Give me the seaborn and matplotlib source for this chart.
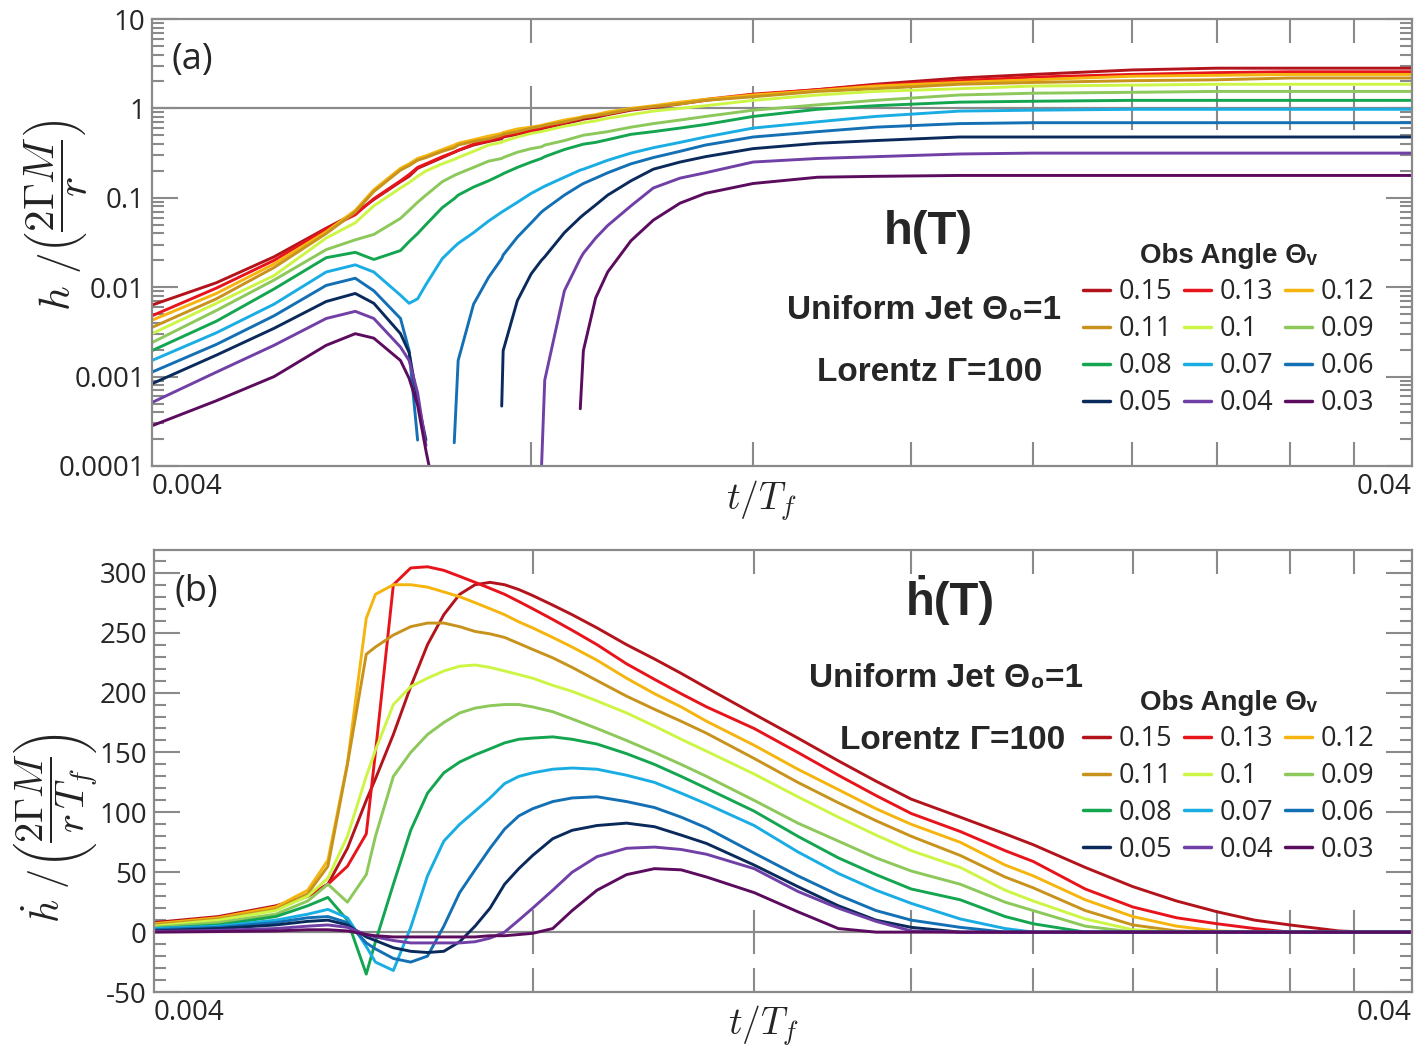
import numpy as np
import pandas as pd
import matplotlib
matplotlib.use("Agg")
import matplotlib.pyplot as plt
import seaborn as sns
from matplotlib import ticker
from matplotlib.lines import Line2D

nan = np.nan

# observer angles, in drawing order, and their colours
angles = ["0.15", "0.13", "0.12", "0.11", "0.1", "0.09",
          "0.08", "0.07", "0.06", "0.05", "0.04", "0.03"]
colors = ["#b3141c", "#e8141c", "#f6b50e", "#c8931c", "#cdf545", "#8dc85a",
          "#14a550", "#1aade4", "#1470b4", "#0b2a5c", "#7040a6", "#5c0c5e"]

x_minor = [0.008, 0.012, 0.016, 0.02, 0.024, 0.028, 0.032, 0.036]
x_major = [0.004, 0.04]
x_labels = ["0.004", "0.04"]
ya_ticks = [1e-4, 1e-3, 1e-2, 1e-1, 1, 10]
ya_labels = ["0.0001", "0.001", "0.01", "0.1", "1", "10"]

# ---- panel (a): log10 of h/(2 Gamma M / r), nan where h <= 0 ----
t_a = [0.004, 0.0045, 0.005, 0.0055, 0.0058, 0.006, 0.0063, 0.0064, 0.0065,
       0.0066, 0.0068, 0.00695, 0.007, 0.0072, 0.0074, 0.00758, 0.0076, 0.0078,
       0.008, 0.00815, 0.0082, 0.0085, 0.00875, 0.0088, 0.009, 0.0092, 0.0096, 0.01,
       0.0105, 0.011, 0.012, 0.0135, 0.015, 0.0175, 0.02, 0.024, 0.028, 0.032, 0.036, 0.04]
la_015 = [-2.20, -1.95, -1.66, -1.34, -1.17, -1.02, -0.82, -0.76, -0.67, -0.63, -0.55, -0.49, -0.47,
          -0.41, -0.37, -0.34, -0.32, -0.29, -0.26, -0.23, -0.22, -0.17, -0.13, -0.12, -0.10, -0.07,
          -0.02, 0.01, 0.05, 0.09, 0.15, 0.21, 0.27, 0.34, 0.38, 0.43, 0.45, 0.45, 0.45, 0.45]
la_013 = [-2.32, -2.01, -1.70, -1.35, -1.19, -1.01, -0.81, -0.74, -0.66, -0.62, -0.54, -0.49, -0.47,
          -0.40, -0.36, -0.32, -0.31, -0.28, -0.25, -0.22, -0.21, -0.16, -0.11, -0.10, -0.08, -0.06,
          -0.01, 0.02, 0.06, 0.10, 0.16, 0.21, 0.26, 0.31, 0.35, 0.38, 0.40, 0.41, 0.41, 0.41]
la_012 = [-2.37, -2.07, -1.74, -1.38, -1.14, -0.91, -0.67, -0.62, -0.56, -0.53, -0.46, -0.41, -0.39,
          -0.35, -0.31, -0.28, -0.27, -0.23, -0.21, -0.19, -0.18, -0.13, -0.10, -0.09, -0.07, -0.04,
          0.00, 0.03, 0.07, 0.10, 0.15, 0.20, 0.25, 0.29, 0.32, 0.36, 0.37, 0.38, 0.38, 0.38]
la_011 = [-2.45, -2.13, -1.78, -1.40, -1.16, -0.93, -0.69, -0.64, -0.58, -0.55, -0.48, -0.44, -0.41,
          -0.37, -0.34, -0.30, -0.29, -0.26, -0.22, -0.20, -0.19, -0.15, -0.11, -0.10, -0.08, -0.06,
          -0.01, 0.02, 0.05, 0.09, 0.13, 0.19, 0.22, 0.27, 0.29, 0.31, 0.32, 0.34, 0.34, 0.34]
la_010 = [-2.52, -2.18, -1.87, -1.45, -1.28, -1.09, -0.89, -0.83, -0.76, -0.70, -0.62, -0.57, -0.55,
          -0.48, -0.41, -0.38, -0.37, -0.32, -0.28, -0.26, -0.25, -0.20, -0.17, -0.16, -0.14, -0.11,
          -0.07, -0.03, 0.00, 0.03, 0.09, 0.15, 0.19, 0.22, 0.25, 0.26, 0.27, 0.27, 0.27, 0.27]
la_009 = [-2.62, -2.26, -1.92, -1.58, -1.47, -1.41, -1.23, -1.14, -1.05, -0.97, -0.82, -0.75, -0.73,
          -0.66, -0.59, -0.56, -0.55, -0.49, -0.45, -0.43, -0.41, -0.36, -0.31, -0.30, -0.28, -0.26,
          -0.21, -0.17, -0.13, -0.09, -0.02, 0.04, 0.09, 0.15, 0.17, 0.18, 0.19, 0.19, 0.19, 0.19]
la_008 = [-2.71, -2.38, -2.02, -1.67, -1.61, -1.69, -1.59, -1.49, -1.40, -1.30, -1.11, -1.01, -0.97,
          -0.88, -0.81, -0.74, -0.73, -0.66, -0.60, -0.56, -0.54, -0.46, -0.41, -0.40, -0.38, -0.35,
          -0.29, -0.26, -0.22, -0.18, -0.09, -0.01, 0.03, 0.07, 0.08, 0.09, 0.09, 0.09, 0.09, 0.09]
la_007 = [-2.82, -2.51, -2.19, -1.83, -1.75, -1.83, -2.09, -2.18, -2.13, -1.97, -1.68, -1.55, -1.51,
          -1.39, -1.26, -1.16, -1.15, -1.05, -0.95, -0.89, -0.87, -0.77, -0.69, -0.68, -0.63, -0.58,
          -0.50, -0.44, -0.38, -0.32, -0.22, -0.15, -0.09, -0.03, -0.02, -0.01, -0.01, -0.01, -0.01, -0.01]
la_006 = [-2.95, -2.64, -2.32, -1.98, -1.90, -2.04, -2.35, -2.71, -3.71, nan, nan, -3.74, -2.82,
          -2.19, -1.89, -1.68, -1.64, -1.44, -1.28, -1.16, -1.13, -0.97, -0.86, -0.84, -0.78, -0.72,
          -0.62, -0.55, -0.48, -0.41, -0.32, -0.26, -0.21, -0.17, -0.16, -0.16, -0.16, -0.16, -0.16, -0.16]
la_005 = [-3.08, -2.76, -2.46, -2.16, -2.07, -2.18, -2.52, -2.73, -3.27, -3.71, nan, nan, nan,
          nan, nan, -3.33, -2.71, -2.15, -1.85, -1.70, -1.66, -1.39, -1.22, -1.19, -1.08, -0.97,
          -0.81, -0.68, -0.60, -0.54, -0.45, -0.39, -0.36, -0.32, -0.32, -0.32, -0.32, -0.32, -0.32, -0.32]
la_004 = [-3.29, -2.95, -2.65, -2.35, -2.27, -2.35, -2.67, -2.82, -3.18, -3.77, nan, nan, nan,
          nan, nan, nan, nan, nan, nan, -4.05, -3.04, -2.04, -1.68, -1.62, -1.45, -1.31,
          -1.09, -0.89, -0.78, -0.72, -0.60, -0.56, -0.54, -0.51, -0.50, -0.50, -0.50, -0.50, -0.50, -0.50]
la_003 = [-3.55, -3.27, -3.00, -2.65, -2.52, -2.57, -2.82, -3.02, -3.32, -3.83, -4.72, nan, nan,
          nan, nan, nan, nan, nan, nan, nan, nan, nan, -3.36, -2.71, -2.12, -1.83,
          -1.48, -1.25, -1.06, -0.95, -0.84, -0.77, -0.76, -0.75, -0.75, -0.75, -0.75, -0.75, -0.75, -0.75]

# ---- panel (b): hdot/(2 Gamma M / r T_f) ----
t_b = [0.004, 0.0045, 0.005, 0.0053, 0.0055, 0.0057, 0.0059, 0.006, 0.0062, 0.0064, 0.0066,
       0.0068, 0.007, 0.0072, 0.0074, 0.0076, 0.0078, 0.008, 0.0083, 0.0086, 0.009, 0.0095,
       0.01, 0.0105, 0.011, 0.012, 0.013, 0.014, 0.015, 0.016, 0.0175, 0.019, 0.02, 0.022,
       0.024, 0.026, 0.028, 0.03, 0.032, 0.035, 0.037, 0.04]
hb_015 = [8, 13, 22, 30, 40, 70, 110, 128, 165, 205, 240, 265, 282, 290, 292, 290, 286, 281, 273,
          265, 254, 240, 228, 216, 204, 182, 162, 143, 126, 111, 96, 82, 73, 54, 38, 26, 17, 10,
          6, 1, 0, 0]
hb_013 = [7, 12, 20, 30, 40, 55, 82, 150, 290, 304, 305, 302, 297, 292, 287, 282, 276, 270, 261,
          252, 240, 224, 211, 199, 188, 170, 150, 131, 114, 99, 84, 68, 59, 36, 21, 12, 7, 3,
          0, 0, 0, 0]
hb_012 = [7, 12, 21, 35, 60, 141, 262, 282, 290, 290, 288, 284, 280, 275, 270, 265, 259, 254, 246,
          238, 227, 212, 199, 188, 176, 156, 136, 119, 103, 90, 75, 56, 47, 27, 13, 5, 1, 0,
          0, 0, 0, 0]
hb_011 = [6, 11, 19, 32, 55, 140, 232, 238, 248, 255, 258, 258, 255, 251, 249, 246, 241, 236, 229,
          221, 210, 197, 186, 176, 166, 145, 125, 108, 93, 80, 64, 46, 37, 18, 6, 1, 0, 0,
          0, 0, 0, 0]
hb_010 = [5, 10, 18, 30, 45, 80, 130, 152, 190, 205, 212, 218, 222, 223, 221, 218, 215, 212, 206,
          201, 193, 183, 172, 161, 151, 132, 113, 96, 81, 68, 54, 35, 26, 11, 2, 0, 0, 0,
          0, 0, 0, 0]
hb_009 = [4, 8, 15, 26, 40, 25, 48, 80, 130, 150, 165, 175, 183, 187, 189, 190, 190, 188, 184,
          178, 170, 160, 150, 140, 130, 110, 91, 76, 62, 51, 40, 25, 18, 5, 0, 0, 0, 0,
          0, 0, 0, 0]
hb_008 = [3, 6, 13, 22, 29, 10, -35, -8, 40, 85, 116, 133, 142, 148, 153, 158, 161, 162, 163,
          161, 157, 149, 140, 130, 120, 101, 80, 62, 48, 36, 27, 13, 7, 0, 0, 0, 0, 0,
          0, 0, 0, 0]
hb_007 = [3, 5, 10, 15, 19, 12, -12, -25, -32, 4, 47, 76, 90, 101, 112, 124, 130, 133, 136,
          137, 136, 131, 125, 116, 107, 89, 67, 49, 35, 24, 11, 3, 0, 0, 0, 0, 0, 0,
          0, 0, 0, 0]
hb_006 = [2, 4, 8, 12, 13, 8, -9, -14, -22, -25, -20, 5, 33, 52, 70, 86, 97, 103, 109,
          112, 113, 109, 104, 96, 87, 66, 47, 31, 18, 10, 4, 0, 0, 0, 0, 0, 0, 0,
          0, 0, 0, 0]
hb_005 = [1, 3, 6, 9, 10, 6, -4, -7, -13, -16, -17, -16, -8, 5, 20, 40, 53, 64, 78,
          85, 89, 91, 88, 81, 74, 56, 38, 22, 10, 4, 0, 0, 0, 0, 0, 0, 0, 0,
          0, 0, 0, 0]
hb_004 = [0.5, 1.5, 3, 5, 6, 4, -2, -4, -7, -9, -9, -9, -9, -8, -5, 0, 10, 20, 35,
          50, 63, 70, 71, 69, 65, 53, 34, 20, 9, 1, 0, 0, 0, 0, 0, 0, 0, 0,
          0, 0, 0, 0]
hb_003 = [0, 0.5, 1, 2, 2, 1, -2, -3, -4, -4, -4, -4, -4, -4, -3, -3, -2, -1, 3,
          18, 35, 48, 53, 52, 46, 33, 17, 3, 0, 0, 0, 0, 0, 0, 0, 0, 0, 0,
          0, 0, 0, 0]

series_a = [la_015, la_013, la_012, la_011, la_010, la_009,
            la_008, la_007, la_006, la_005, la_004, la_003]
series_b = [hb_015, hb_013, hb_012, hb_011, hb_010, hb_009,
            hb_008, hb_007, hb_006, hb_005, hb_004, hb_003]

GRAY = "#8a8a8a"
BOLD = ["Liberation Sans", "DejaVu Sans"]


def long_frame(t, series, col):
    """Stack the curves; a nan splits a curve into separate segments."""
    parts = []
    for name, vals in zip(angles, series):
        v = pd.Series(vals, dtype=float)
        parts.append(pd.DataFrame({"t": t, col: v, "angle": name,
                                   "seg": v.isna().cumsum()}).dropna())
    return pd.concat(parts, ignore_index=True)


def style_frame(ax):
    for s in ax.spines.values():
        s.set_color(GRAY)
        s.set_linewidth(1.6)
    ax.set_xscale("log")
    ax.set_xlim(0.004, 0.04)
    ax.xaxis.set_major_locator(ticker.FixedLocator(x_major))
    ax.xaxis.set_major_formatter(ticker.FixedFormatter(x_labels))
    ax.xaxis.set_minor_locator(ticker.FixedLocator(x_minor))
    ax.xaxis.set_minor_formatter(ticker.NullFormatter())
    ax.tick_params(axis="x", which="minor", direction="in", length=17, width=1.5,
                   color=GRAY, top=True, bottom=True)
    ax.tick_params(axis="x", which="major", length=0, pad=5, labelsize=20)
    ax.tick_params(axis="y", which="both", direction="in", width=1.5, color=GRAY,
                   left=True, right=True, labelsize=20, pad=5)
    ax.tick_params(axis="y", which="major", length=19)
    ax.tick_params(axis="y", which="minor", length=8.5)
    ticks = ax.xaxis.get_major_ticks()
    ticks[0].label1.set_horizontalalignment("left")
    ticks[1].label1.set_horizontalalignment("right")
    ax.grid(False)


def add_cross_axis(ax, frac):
    """Inner horizontal axis line with ticks crossing it."""
    sec = ax.secondary_xaxis(frac)
    sec.set_xticks(x_minor)
    sec.xaxis.set_minor_locator(ticker.NullLocator())
    sec.xaxis.set_major_formatter(ticker.NullFormatter())
    sec.tick_params(which="major", direction="inout", length=32, width=1.5, color=GRAY)
    for s in sec.spines.values():
        s.set_color(GRAY)
        s.set_linewidth(1.6)


def add_texts(ax, tag, title, pos, legend_anchor):
    ax.text(*pos[0], tag, transform=ax.transAxes, ha="center", va="center",
            fontsize=26, family=["Open Sans", "DejaVu Sans"])
    ax.text(*pos[1], title, transform=ax.transAxes, ha="center", va="center",
            fontsize=34, fontweight="bold", family=BOLD)
    ax.text(*pos[2], "Uniform Jet \u0398\u2080=1", transform=ax.transAxes, ha="center",
            va="center", fontsize=24, fontweight="bold", family=BOLD)
    ax.text(*pos[3], "Lorentz \u0393=100", transform=ax.transAxes, ha="center",
            va="center", fontsize=24, fontweight="bold", family=BOLD)
    order = [0, 3, 6, 9, 1, 4, 7, 10, 2, 5, 8, 11]  # fill the legend row by row
    handles = [Line2D([], [], color=colors[i], lw=2.5) for i in order]
    labels = [angles[i] for i in order]
    leg = ax.legend(handles, labels, ncol=3, loc="upper left", bbox_to_anchor=legend_anchor,
                    frameon=False, prop={"family": "Open Sans", "size": 19.5},
                    title="Obs Angle \u0398\u1d65",
                    title_fontproperties={"family": BOLD, "weight": "bold", "size": 20},
                    handlelength=1.0, handletextpad=0.3, columnspacing=0.45,
                    labelspacing=0.33, borderpad=0, borderaxespad=0)
    return leg


sns.set_style("white")
plt.rcParams["font.family"] = ["Open Sans", "DejaVu Sans"]
plt.rcParams["mathtext.fontset"] = "cm"

fig = plt.figure(figsize=(14.24, 10.5), dpi=100)
ax1 = fig.add_axes([0.1067, 0.5562, 0.8848, 0.4257])
ax2 = fig.add_axes([0.1081, 0.0552, 0.8834, 0.4210])
palette = dict(zip(angles, colors))

# panel (a)
df_a = long_frame(t_a, series_a, "logh")
df_a["h"] = 10.0 ** df_a["logh"]
sns.lineplot(data=df_a, x="t", y="h", hue="angle", hue_order=angles, palette=palette,
             units="seg", estimator=None, lw=2.1, legend=False, ax=ax1)
style_frame(ax1)
ax1.set_yscale("log")
ax1.set_ylim(1e-4, 10)
ax1.yaxis.set_major_locator(ticker.FixedLocator(ya_ticks))
ax1.yaxis.set_major_formatter(ticker.FixedFormatter(ya_labels))
ax1.yaxis.set_minor_locator(ticker.LogLocator(base=10, subs=np.arange(2, 10)))
ax1.yaxis.set_minor_formatter(ticker.NullFormatter())
lo, hi = np.log10(ax1.get_ylim())
add_cross_axis(ax1, (0 - lo) / (hi - lo))
ax1.set_xlabel(r"$t/T_f$", fontsize=27)
ax1.xaxis.set_label_coords(0.484, -0.027)
ax1.set_ylabel(r"$h\ /\left(\dfrac{2\Gamma M}{r}\right)$", fontsize=31, color="#222222")
ax1.yaxis.set_label_coords(-0.05, 0.56)
add_texts(ax1, "(a)", "h(T)",
          [(0.032, 0.908), (0.616, 0.523), (0.613, 0.347), (0.617, 0.210)],
          (0.739, 0.498))

# panel (b)
df_b = long_frame(t_b, series_b, "hdot")
sns.lineplot(data=df_b, x="t", y="hdot", hue="angle", hue_order=angles, palette=palette,
             units="seg", estimator=None, lw=2.1, legend=False, ax=ax2)
style_frame(ax2)
ax2.set_ylim(-50, 319)
ax2.yaxis.set_major_locator(ticker.MultipleLocator(50))
ax2.yaxis.set_minor_locator(ticker.MultipleLocator(10))
ax2.yaxis.set_major_formatter(ticker.FormatStrFormatter("%d"))
lo, hi = ax2.get_ylim()
add_cross_axis(ax2, (0 - lo) / (hi - lo))
ax2.set_xlabel(r"$t/T_f$", fontsize=27)
ax2.xaxis.set_label_coords(0.484, -0.025)
ax2.set_ylabel(r"$\dot{h}\ /\left(\dfrac{2\Gamma M}{r\,T_f}\right)$", fontsize=29,
               color="#222222")
ax2.yaxis.set_label_coords(-0.043, 0.371)
add_texts(ax2, "(b)", "\u1e23(T)",
          [(0.034, 0.905), (0.633, 0.887), (0.630, 0.710), (0.635, 0.570)],
          (0.7385, 0.683))

fig.savefig("out.png", dpi=100, facecolor="white")
